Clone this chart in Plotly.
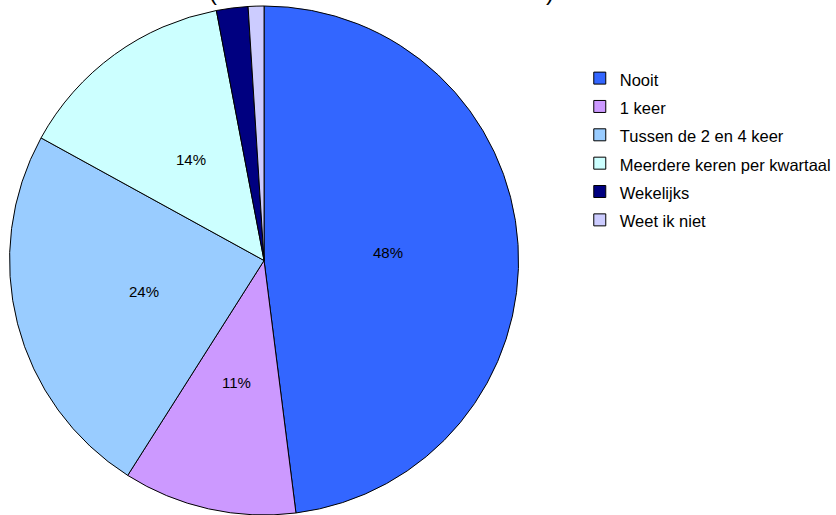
import math
import plotly.graph_objects as go

# Survey answer categories and their shares (percent)
categories = ["Nooit", "1 keer", "Tussen de 2 en 4 keer",
              "Meerdere keren per kwartaal", "Wekelijks", "Weet ik niet"]
shares = [48, 11, 24, 14, 2, 1]
slice_colors = ["#3366FF", "#CC99FF", "#99CCFF", "#CCFFFF", "#000080", "#CCCCFF"]

# Only the four larger slices carry a percentage label
label_min = 5

FONT = "Liberation Sans, Arial, sans-serif"
W, H = 836, 515
MARGIN_T = 6
DOMAIN_X = [0, 0.634]
LABEL_R = 0.49  # label distance from the centre, as a fraction of the radius

# Legend rows are spaced wider than the text, so the legend font sets the row
# height while each entry renders at the smaller size.
legend_names = [f'<span style="font-size:16.5px">{c}</span>' for c in categories]

fig = go.Figure(
    go.Pie(
        labels=legend_names,
        values=shares,
        textinfo="none",
        marker=dict(colors=slice_colors, line=dict(color="black", width=1)),
        sort=False,
        direction="clockwise",
        rotation=0,
        hoverinfo="skip",
        domain=dict(x=DOMAIN_X, y=[0, 1]),
    )
)

# Percentage labels placed on each slice's middle angle, halfway out
plot_w = W * (DOMAIN_X[1] - DOMAIN_X[0])
plot_h = H - MARGIN_T
radius = min(plot_w, plot_h) / 2
cx = plot_w / 2 + W * DOMAIN_X[0]
cy = plot_h / 2  # from the bottom of the plot area
total = sum(shares)
start = 0.0
for v in shares:
    mid = (start + v / 2) / total * 2 * math.pi
    start += v
    if v < label_min:
        continue
    px = cx + LABEL_R * radius * math.sin(mid)
    py = cy + LABEL_R * radius * math.cos(mid)
    fig.add_annotation(
        text=f"{v}%", xref="paper", yref="paper",
        x=px / W, y=py / plot_h, xanchor="center", yanchor="middle",
        showarrow=False,
        font=dict(family=FONT, size=15, color="black"),
    )

# Title line sits above the chart area
for ch, xpos in (("(", 0.249), (")", 0.66)):
    fig.add_annotation(
        text=ch, xref="paper", yref="paper", x=xpos, y=1, yanchor="bottom",
        yshift=-1, showarrow=False,
        font=dict(family=FONT, size=24, color="black"),
    )

fig.update_layout(
    width=W,
    height=H,
    margin=dict(l=0, r=0, t=MARGIN_T, b=0),
    paper_bgcolor="white",
    plot_bgcolor="white",
    showlegend=True,
    legend=dict(
        x=0.696, y=0.896, xanchor="left", yanchor="top",
        font=dict(family=FONT, size=19.5, color="black"),
        bgcolor="rgba(0,0,0,0)",
        itemclick=False, itemdoubleclick=False,
    ),
)

fig.write_html("out.html")
